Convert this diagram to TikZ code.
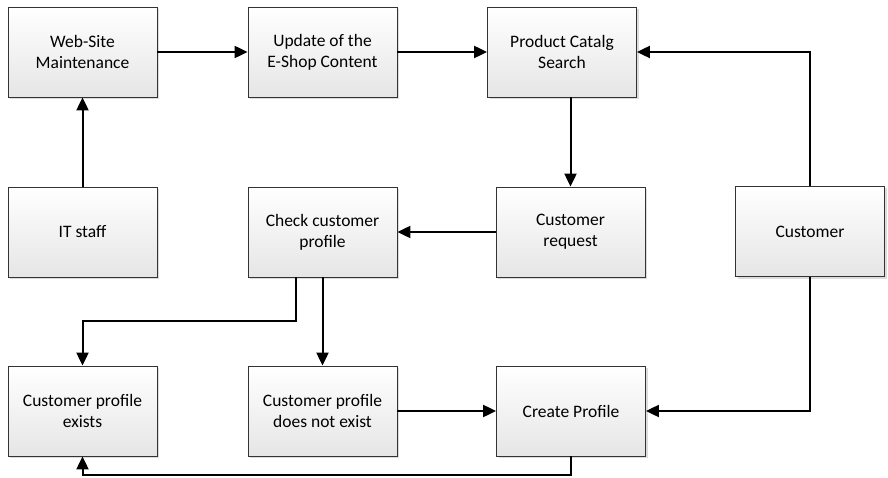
\documentclass[tikz,border=0pt]{standalone}
\usepackage{fontspec}
\setmainfont{Carlito}
\usetikzlibrary{arrows.meta,shadows}
\begin{document}
\begin{tikzpicture}[x=1pt,y=-1pt,
  box/.style={draw=black!80, line width=0.8pt, top color=white, bottom color=black!10,
    minimum width=149pt, minimum height=90pt, inner sep=0pt, align=center,
    font=\fontsize{17.5}{21}\selectfont,
    drop shadow={shadow xshift=2pt, shadow yshift=-2pt, opacity=0.3, fill=black!45}},
  flow/.style={line width=2pt, -{Triangle[length=13pt,width=12pt]}}]
\useasboundingbox (0,0) rectangle (888,478);

% top row
\node[box] (web)  at (82.5,52)   {Web-Site\\Maintenance};
\node[box] (upd)  at (322.5,52)  {Update of the\\E-Shop Content};
\node[box] (prod) at (562,52)    {Product Catalg\\Search};
% middle row
\node[box] (it)   at (82.5,232)  {IT staff};
\node[box] (chk)  at (322.5,232) {Check customer\\profile};
\node[box] (req)  at (570.5,232) {Customer\\request};
\node[box] (cust) at (810,231.5) {Customer};
% bottom row
\node[box] (exists) at (82.5,411)  {Customer profile\\exists};
\node[box] (notex)  at (322.5,411) {Customer profile\\does not exist};
\node[box] (create) at (571,411)   {Create Profile};

% connectors
\draw[flow] (web) -- (upd);
\draw[flow] (upd) -- (prod);
\draw[flow] (it) -- (web);
\draw[flow] (prod.south -| req.north) -- (req.north);
\draw[flow] (cust.north) |- (prod.east);
\draw[flow] (req) -- (chk);
\draw[flow] ([xshift=-26.5pt]chk.south) -- ++(0,44) -| (exists.north);
\draw[flow] (chk.south) -- (notex.north);
\draw[flow] (notex) -- (create);
\draw[flow] (cust.south) |- (create.east);
\draw[flow] (create.south) -- ++(0,19) -| (exists.south);
\end{tikzpicture}
\end{document}
